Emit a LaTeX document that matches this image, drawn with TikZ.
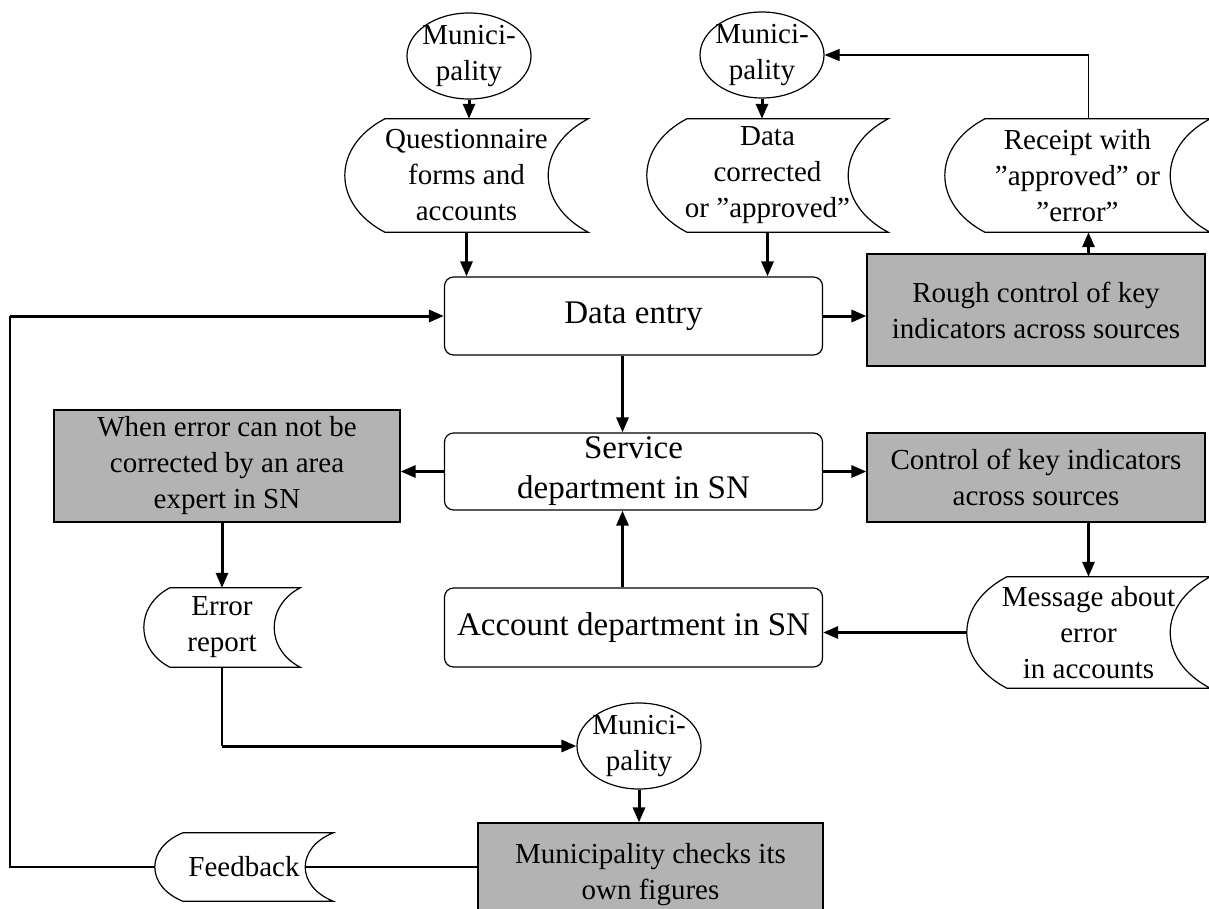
\documentclass[tikz,border=0pt]{standalone}
\usepackage{fontspec}
\setmainfont{Liberation Serif}
\usetikzlibrary{arrows.meta, positioning, calc, shapes.geometric}
\definecolor{boxgray}{RGB}{179,179,179}
\newcommand{\txt}{\fontsize{29}{36}\selectfont}
\newcommand{\bigtxt}{\fontsize{33}{40}\selectfont}
% stored data outline: node name, arc depth, control offset
\newcommand{\storeshape}[3]{%
  \draw[line width=1.2pt] ([xshift=#2]#1.north west) -- (#1.north east)
    .. controls ([xshift=-1.333*#2, yshift=-#3]#1.north east) and ([xshift=-1.333*#2, yshift=#3]#1.south east) .. (#1.south east)
    -- ([xshift=#2]#1.south west)
    .. controls ([xshift=-0.333*#2, yshift=#3]#1.south west) and ([xshift=-0.333*#2, yshift=-#3]#1.north west) .. ([xshift=#2]#1.north west) -- cycle;}
\tikzset{
  muni/.style={ellipse, draw, line width=1.2pt, minimum width=124pt, minimum height=86pt, inner sep=-4pt, align=center, font=\txt},
  store/.style={inner sep=0pt, align=center, font=\txt},
  proc/.style={draw, line width=1.2pt, rounded corners=9pt, inner sep=0pt, align=center, font=\bigtxt, minimum width=378pt},
  check/.style={draw, line width=1.2pt, fill=boxgray, inner sep=0pt, align=center, font=\txt},
  tip/.style={-{Triangle[length=15pt,width=12pt]}},
  arr/.style={tip, line width=3pt},
  flow/.style={line width=1.2pt},
}
\begin{document}
\begin{tikzpicture}[x=1pt, y=-1pt]
  \useasboundingbox (0,0) rectangle (1209,908);
  \fill[white] (0,0) rectangle (1209,908);
  \clip (0,0) rectangle (1209,908);

  % Top row
  \node[muni] (muni1) at (469,56) {Munici-\\pality};
  \node[store, minimum width=243pt, minimum height=113pt] (quest) at (466.5,175.5) {Questionnaire\\forms and\\accounts};
  \node[muni] (muni2) at (762,55) {Munici-\\pality};
  \node[store, minimum width=241pt, minimum height=113pt] (corr) at (767.5,175.5) {Data\\corrected\\or ''approved''};
  \node[store, minimum width=265pt, minimum height=113pt] (rec) at (1077.5,175.5) {Receipt with\\''approved'' or\\''error''};

  % Middle column
  \node[proc, minimum height=78pt] (entry) at (633.5,316) {Data entry};
  \node[check, minimum width=338pt, minimum height=112pt] (rough) at (1036,310) {Rough control of key\\indicators across sources};
  \node[proc, minimum height=77pt] (service) at (633.5,471.5) {Service\\department in SN};
  \node[check, minimum width=338pt, minimum height=89pt] (ctrl) at (1036,477.5) {Control of key indicators\\across sources};
  \node[check, minimum width=346pt, minimum height=112pt] (when) at (227,466) {When error can not be\\corrected by an area\\expert in SN};
  \node[proc, minimum height=79pt] (account) at (633.5,627.5) {Account department in SN};
  \node[store, minimum width=156pt, minimum height=79pt] (errrep) at (222,627.5) {Error\\report};
  \node[store, minimum width=243pt, minimum height=111pt] (msg) at (1088.5,632.5) {Message about\\error\\in accounts};

  % Bottom row
  \node[muni] (muni3) at (639,746) {Munici-\\pality};
  \node[check, minimum width=345pt, minimum height=104pt] (mcheck) at (650.5,875) {Municipality checks its\\own figures};
  \node[store, minimum width=178pt, minimum height=68pt] (feedback) at (244,867) {Feedback};

  % Stored data outlines
  \storeshape{quest}{40pt}{28pt}
  \storeshape{corr}{40pt}{28pt}
  \storeshape{rec}{40pt}{28pt}
  \storeshape{msg}{40pt}{28pt}
  \storeshape{errrep}{26pt}{18pt}
  \storeshape{feedback}{28pt}{15pt}

  % Connectors
  \coordinate (rtap) at ([xshift=11pt]rec.south);
  \coordinate (loop) at (10,0);
  \draw[arr] (muni1.south) -- (muni1.south |- quest.north);
  \draw[arr] (quest.south) -- (quest.south |- entry.north);
  \draw[arr] (muni2.south) -- (muni2.south |- corr.north);
  \draw[arr] (corr.south) -- (corr.south |- entry.north);
  \draw[arr] (entry.east) -- (entry.east -| rough.west);
  \draw[arr] (rtap |- rough.north) -- (rtap);
  \draw[flow, tip] (rtap |- rec.north) |- (muni2.east);
  \draw[arr] ([xshift=-11pt]entry.south) -- ([xshift=-11pt]service.north);
  \draw[arr] (service.west) -- (service.west -| when.east);
  \draw[arr] (service.east) -- (service.east -| ctrl.west);
  \draw[arr] (errrep.north |- when.south) -- (errrep.north);
  \draw[arr] (msg.north |- ctrl.south) -- (msg.north);
  \draw[arr] (msg.west) -- (msg.west -| account.east);
  \draw[arr] ([xshift=-11pt]account.north) -- ([xshift=-11pt]service.south);
  \draw[flow] (errrep.south) -- (errrep.south |- muni3.west);
  \draw[arr] (errrep.south |- muni3.west) -- (muni3.west);
  \draw[arr] (muni3.south) -- (muni3.south |- mcheck.north);
  \draw[flow] (mcheck.west |- feedback.east) -- ([xshift=-28pt]feedback.east);
  \draw[flow] (feedback.west) -| (loop |- entry.west);
  \draw[arr] (loop |- entry.west) -- (entry.west);
\end{tikzpicture}
\end{document}
